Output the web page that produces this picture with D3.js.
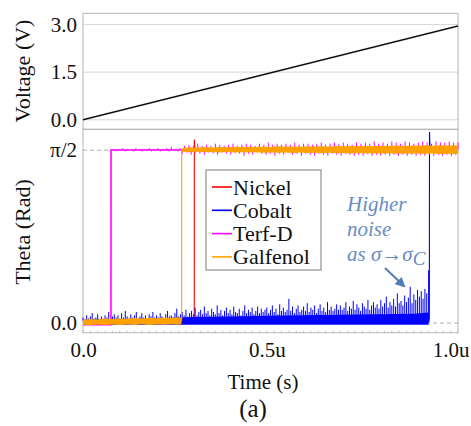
<!DOCTYPE html>
<html>
<head>
<meta charset="utf-8">
<script src="https://cdn.jsdelivr.net/npm/d3@7"></script>
<style>
  html, body { margin: 0; padding: 0; background: #fff; }
  svg { display: block; }
</style>
</head>
<body>
<svg id="chart" width="471" height="426"></svg>
<script>
// ---- axis ticks (time in microseconds) ----
const timeTicks = [0, 0.5, 1.0];
const timeTickLabels = ["0.0", "0.5u", "1.0u"];
const voltTicks = [0, 1.5, 3.0];
const voltTickLabels = ["0.0", "1.5", "3.0"];
const thetaTicks = [0, Math.PI / 2];
const thetaTickLabels = ["0.0", "π/2"];

// ---- applied voltage ramp ----
const voltageTime = [0, 1.02];
const voltageValue = [0, 2.95];

// ---- materials ----
const materials = ["Nickel", "Cobalt", "Terf-D", "Galfenol"];
const materialColors = ["#ff0000", "#0000ff", "#ff00ff", "#ffa200"];

// Nickel: quiet until switching at ~0.303 us, small overshoot
const nickelTime = [0, 0.3026, 0.3028, 0.3045, 1.02];
const nickelTheta = [0.005, 0.005, 1.668, 1.571, 1.571];

// Cobalt: trace, noise band near 0 and noise spikes (every 0.005 us, 0 .. 0.94 us)
const cobaltTime = [0, 0.9405, 0.9420, 0.9425, 0.9440, 1.02];
const cobaltTheta = [0.01, 0.01, 0.04, 1.737, 1.571, 1.571];
const cobaltBandTime = [0, 0.1, 0.2, 0.3, 0.4, 0.5, 0.6, 0.7, 0.8, 0.9, 0.94];
const cobaltBandTop = [0.030, 0.035, 0.040, 0.055, 0.060, 0.065, 0.070, 0.075, 0.080, 0.085, 0.095];
const cobaltBandBottom = [-0.015, -0.015, -0.015, -0.015, -0.015, -0.015, -0.015, -0.015, -0.015, -0.015, -0.015];
const cobaltSpikeStep = 0.005;
const cobaltSpikes = [
  .05,.03,.07,.04,.06,.09,.04,.05,.08,.03,.06,.04,.07,.05,.10,.04,.06,.08,.05,.07,
  .04,.09,.05,.11,.06,.04,.08,.05,.07,.10,.04,.06,.09,.05,.07,.04,.08,.06,.10,.05,
  .07,.05,.09,.06,.04,.08,.11,.06,.07,.05,.09,.13,.06,.08,.10,.07,.12,.06,.09,.11,
  .08,.14,.07,.10,.12,.08,.15,.09,.11,.07,.13,.10,.08,.16,.09,.12,.07,.11,.14,.09,
  .12,.08,.15,.10,.09,.13,.07,.11,.16,.09,.12,.10,.14,.08,.11,.15,.09,.13,.10,.12,
  .14,.09,.12,.16,.10,.13,.08,.17,.11,.14,.10,.12,.22,.11,.15,.09,.13,.16,.10,.12,
  .15,.11,.18,.10,.14,.12,.16,.09,.13,.17,.11,.14,.10,.19,.12,.15,.11,.13,.17,.12,
  .16,.12,.14,.19,.11,.15,.13,.20,.12,.17,.14,.11,.18,.15,.13,.21,.12,.16,.19,.14,
  .17,.13,.21,.15,.18,.24,.14,.19,.16,.22,.15,.27,.18,.20,.16,.25,.19,.23,.33,.18,
  .26,.21,.30,.24,.29,.22,.31,.27,.48
];

// Terf-D: switches first (~0.076 us); noise excursions every 0.006 us from 0.078 us
const terfTime = [0, 0.0760, 0.0762, 1.02];
const terfTheta = [-0.015, -0.015, 1.573, 1.578];
const terfCenter = 1.573;
const terfStart = 0.078, terfStep = 0.006;
const terfExcursions = [
  1.57,1.58,1.56,1.58,1.57,1.59,1.56,1.58,1.57,1.58,
  1.56,1.59,1.57,1.58,1.56,1.58,1.57,1.59,1.56,1.58,
  1.57,1.59,1.56,1.58,1.57,1.59,1.56,1.60,1.57,1.58,
  1.56,1.59,
  1.54,1.61,1.55,1.62,1.53,1.61,1.55,1.63,1.54,1.61,
  1.53,1.62,1.55,1.61,1.54,1.63,1.53,1.62,1.55,1.61,
  1.54,1.62,1.53,1.63,1.55,1.61,1.54,1.62,1.52,1.63,
  1.54,1.62,1.53,1.61,1.55,1.63,1.54,1.62,1.53,1.64,
  1.54,1.62,1.52,1.63,1.54,1.62,1.53,1.63,1.55,1.62,
  1.53,1.64,1.54,1.62,1.52,1.63,1.54,1.63,1.53,1.62,
  1.52,1.63,1.54,1.64,1.53,1.62,1.52,1.63,1.54,1.64,
  1.53,1.63,1.52,1.64,1.54,1.63,1.53,1.62,1.52,1.64,
  1.53,1.63,1.52,1.64,1.54,1.63,1.52,1.65,1.53,1.63,
  1.52,1.64,1.53,1.63,1.52,1.65,1.53,1.64,1.52,1.63,
  1.53,1.65,1.52,1.64,1.53,1.63,1.52,1.64,1.53,1.65,
  1.52,1.64,1.53,1.63,1.52,1.65,1.53,1.64,1.52,1.64,
  1.53,1.65,1.52,1.64,1.53,1.64
];

// Galfenol: trace and noise band before / after switching at ~0.2685 us
const galfenolTime = [0, 0.2683, 0.2685, 1.02];
const galfenolTheta = [0.015, 0.02, 1.575, 1.578];
const galfenolPreTime = [0, 0.02, 0.04, 0.06, 0.08, 0.10, 0.12, 0.14, 0.16, 0.18, 0.20, 0.22, 0.24, 0.26, 0.268];
const galfenolPreHigh = [0.030,0.036,0.032,0.040,0.036,0.042,0.038,0.045,0.040,0.047,0.043,0.050,0.046,0.052,0.050];
const galfenolPreLow = [-0.015,-0.020,-0.014,-0.018,-0.013,-0.019,-0.014,-0.017,-0.012,-0.018,-0.013,-0.016,-0.012,-0.015,-0.012];
const galfenolPostTime = [
  0.27,0.29,0.31,0.33,0.35,0.37,0.39,0.41,0.43,0.45,0.47,0.49,0.51,0.53,0.55,0.57,0.59,0.61,0.63,0.65,
  0.67,0.69,0.71,0.73,0.75,0.77,0.79,0.81,0.83,0.85,0.87,0.89,0.91,0.93,0.95,0.97,0.99,1.01,1.02
];
const galfenolPostHigh = [
  1.592,1.597,1.594,1.599,1.596,1.600,1.597,1.602,1.599,1.603,1.600,1.604,1.601,1.606,1.602,1.605,1.603,1.608,1.604,1.607,
  1.605,1.609,1.606,1.610,1.607,1.611,1.608,1.612,1.609,1.613,1.610,1.614,1.611,1.615,1.612,1.616,1.613,1.615,1.614
];
const galfenolPostLow = [
  1.557,1.553,1.556,1.552,1.555,1.551,1.554,1.550,1.553,1.549,1.552,1.548,1.551,1.547,1.550,1.546,1.549,1.545,1.548,1.544,
  1.547,1.543,1.546,1.542,1.545,1.541,1.544,1.540,1.543,1.539,1.542,1.538,1.541,1.537,1.540,1.536,1.539,1.537,1.538
];

// ---- helpers ----
const zip = (ts, vs) => ts.map((t, i) => [t, vs[i]]);
const band = (ts, lo, hi) => ts.map((t, i) => [t, lo[i], hi[i]]);

// ---- layout ----
const serif = "'Liberation Serif', 'DejaVu Serif', 'Noto Serif', Times, serif";
const svg = d3.select("#chart").attr("font-family", serif);
const left = 83, right = 458;
const vTop = 13.3, vBottom = 129.3, tBottom = 332.7;
const gridColor = "#d6d6d6", frameColor = "#b4b4b4";

const x = d3.scaleLinear().domain([0, 1.02]).range([left, right]);
const yV = d3.scaleLinear().domain([-0.3, 3.35]).range([vBottom, vTop]);
const yT = d3.scaleLinear().domain([-0.088, 1.761]).range([tBottom, vBottom]);

// voltage grid
svg.append("g").selectAll("line").data(voltTicks).join("line")
  .attr("x1", left).attr("x2", right)
  .attr("y1", d => yV(d)).attr("y2", d => yV(d))
  .attr("stroke", gridColor).attr("stroke-width", 1);

// theta dashed grid
svg.append("g").selectAll("line").data(thetaTicks).join("line")
  .attr("x1", left).attr("x2", right)
  .attr("y1", d => yT(d)).attr("y2", d => yT(d))
  .attr("stroke", "#b0b0b0").attr("stroke-width", 1)
  .attr("stroke-dasharray", "4,3");

// minor ticks on the time axis
svg.append("g").selectAll("line").data(d3.range(0, 1.021, 0.02)).join("line")
  .attr("x1", d => x(d)).attr("x2", d => x(d))
  .attr("y1", tBottom).attr("y2", tBottom - 2)
  .attr("stroke", "#c4c4c4");

// frames
svg.append("rect").attr("x", left).attr("y", vTop).attr("width", right - left).attr("height", vBottom - vTop)
  .attr("fill", "none").attr("stroke", frameColor);
svg.append("rect").attr("x", left).attr("y", vBottom).attr("width", right - left).attr("height", tBottom - vBottom)
  .attr("fill", "none").attr("stroke", frameColor);

// voltage trace
const lineV = d3.line().x(d => x(d[0])).y(d => yV(d[1]));
svg.append("path").datum(zip(voltageTime, voltageValue))
  .attr("d", lineV).attr("fill", "none").attr("stroke", "#111").attr("stroke-width", 1.6);

// theta traces
const lineT = d3.line().x(d => x(d[0])).y(d => yT(d[1]));
const areaT = d3.area().x(d => x(d[0])).y0(d => yT(d[1])).y1(d => yT(d[2]));
const plot = svg.append("g");

function trace(points, color, width) {
  plot.append("path").datum(points).attr("d", lineT)
    .attr("fill", "none").attr("stroke", color).attr("stroke-width", width);
}
function noiseBand(rows, color) {
  plot.append("path").datum(rows).attr("d", areaT).attr("fill", color).attr("stroke", "none");
}
function sticks(points, base, color, width) {
  plot.append("g").selectAll("line").data(points).join("line")
    .attr("x1", d => x(d[0])).attr("x2", d => x(d[0]))
    .attr("y1", yT(base)).attr("y2", d => yT(d[1]))
    .attr("stroke", color).attr("stroke-width", width);
}

// Nickel
trace(zip(nickelTime, nickelTheta), materialColors[0], 1.1);

// Cobalt
noiseBand(band(cobaltBandTime, cobaltBandBottom, cobaltBandTop), materialColors[1]);
sticks(cobaltSpikes.map((v, i) => [i * cobaltSpikeStep, v]), 0.02, materialColors[1], 1);
trace(zip(cobaltTime, cobaltTheta), materialColors[1], 1.1);

// Terf-D
sticks(terfExcursions.map((v, i) => [terfStart + i * terfStep, v]), terfCenter, materialColors[2], 1);
trace(zip(terfTime, terfTheta), materialColors[2], 1.6);

// Galfenol
noiseBand(band(galfenolPreTime, galfenolPreLow, galfenolPreHigh), materialColors[3]);
noiseBand(band(galfenolPostTime, galfenolPostLow, galfenolPostHigh), materialColors[3]);
trace(zip(galfenolTime, galfenolTheta), materialColors[3], 1.1);

// axes
const fontSize = 21;
function styleAxis(g) {
  g.select(".domain").remove();
  g.attr("font-family", serif);
  g.selectAll("text").attr("font-size", fontSize).attr("font-family", serif).attr("fill", "#111");
}
svg.append("g").attr("transform", `translate(${left},0)`)
  .call(d3.axisLeft(yV).tickValues(voltTicks).tickFormat((d, i) => voltTickLabels[i]).tickSize(0).tickPadding(6))
  .call(styleAxis);
svg.append("g").attr("transform", `translate(${left},0)`)
  .call(d3.axisLeft(yT).tickValues(thetaTicks).tickFormat((d, i) => thetaTickLabels[i]).tickSize(0).tickPadding(6))
  .call(styleAxis);
svg.append("g").attr("transform", `translate(0,${tBottom})`)
  .call(d3.axisBottom(x).tickValues(timeTicks).tickFormat((d, i) => timeTickLabels[i]).tickSize(0).tickPadding(9))
  .call(styleAxis);

// axis titles
function label(sel) { return sel.attr("font-family", serif).attr("fill", "#111"); }
svg.append("text").call(label).attr("transform", "translate(22,71) rotate(-90)")
  .attr("text-anchor", "middle").attr("dominant-baseline", "central")
  .attr("font-size", 22).text("Voltage (V)");
svg.append("text").call(label).attr("transform", "translate(22,232) rotate(-90)")
  .attr("text-anchor", "middle").attr("dominant-baseline", "central")
  .attr("font-size", 22).text("Theta (Rad)");
svg.append("text").call(label).attr("x", 263).attr("y", 389)
  .attr("text-anchor", "middle").attr("font-size", 21).text("Time (s)");
svg.append("text").call(label).attr("x", 253).attr("y", 417)
  .attr("text-anchor", "middle").attr("font-size", 25).text("(a)");

// legend
const legend = svg.append("g");
legend.append("rect").attr("x", 206).attr("y", 170).attr("width", 115).attr("height", 100)
  .attr("fill", "#fff").attr("stroke", "#7a7a7a").attr("stroke-width", 1);
const entry = legend.selectAll("g.entry").data(materials).join("g")
  .attr("class", "entry")
  .attr("transform", (d, i) => `translate(0,${187 + i * 23.3})`);
entry.append("line").attr("x1", 212).attr("x2", 232).attr("y1", 0).attr("y2", 0)
  .attr("stroke", (d, i) => materialColors[i]).attr("stroke-width", 1.6);
entry.append("text").call(label).attr("x", 233).attr("y", 0).attr("dominant-baseline", "central")
  .attr("font-size", 22).text(d => d);

// annotation
const noteColor = "#6a8cc2";
const note = svg.append("g").attr("font-style", "italic").attr("font-size", 21);
note.append("text").attr("font-family", serif).attr("x", 347).attr("y", 211).attr("fill", noteColor).text("Higher");
note.append("text").attr("font-family", serif).attr("x", 347).attr("y", 236).attr("fill", noteColor).text("noise");
const last = note.append("text").attr("font-family", serif).attr("x", 347).attr("y", 261).attr("fill", noteColor);
last.append("tspan").text("as σ→σ");
last.append("tspan").attr("dy", 4).attr("font-size", 19).text("C");

svg.append("defs").append("marker")
  .attr("id", "arrowhead").attr("viewBox", "0 0 10 10").attr("refX", 8).attr("refY", 5)
  .attr("markerWidth", 5).attr("markerHeight", 5).attr("orient", "auto")
  .append("path").attr("d", "M0,0 L10,5 L0,10 z").attr("fill", "#4f7db8");
svg.append("line").attr("x1", 385).attr("y1", 268).attr("x2", 404).attr("y2", 286)
  .attr("stroke", "#4f7db8").attr("stroke-width", 2).attr("marker-end", "url(#arrowhead)");
</script>
</body>
</html>
